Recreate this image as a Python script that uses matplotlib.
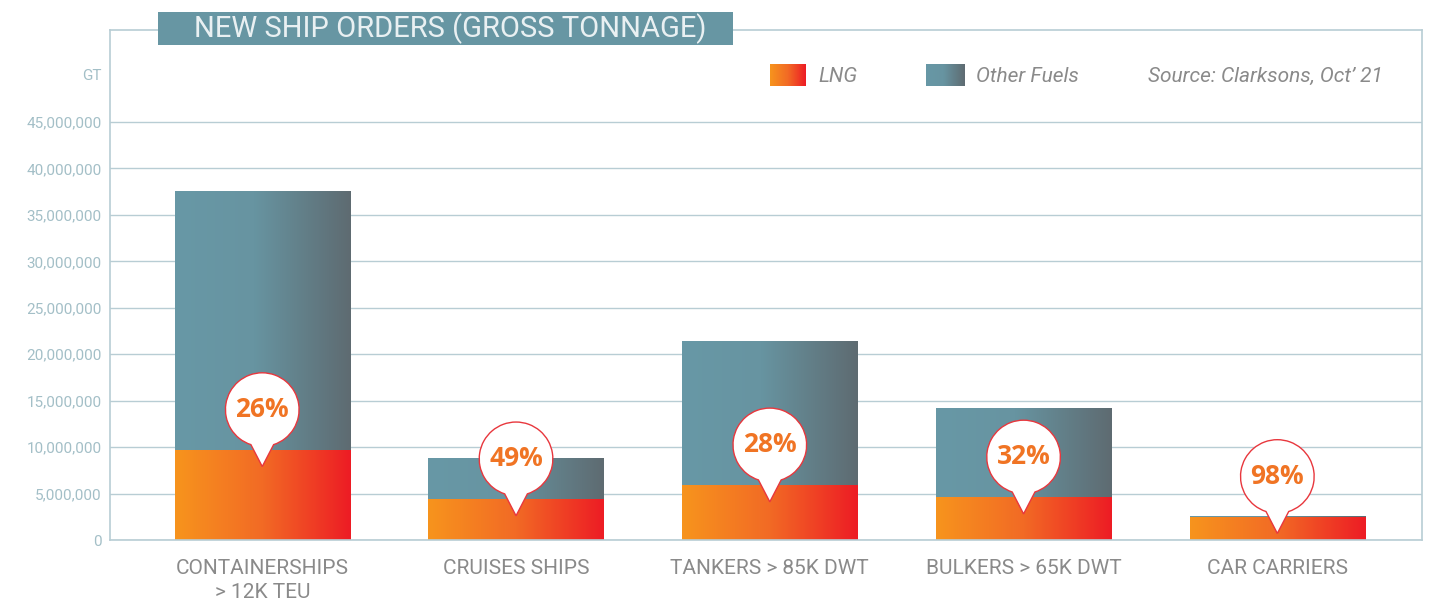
import numpy as np
import matplotlib
matplotlib.use("Agg")
import matplotlib.pyplot as plt
from matplotlib.colors import LinearSegmentedColormap
from matplotlib.patches import Rectangle, PathPatch
from matplotlib.path import Path
from matplotlib.ticker import FuncFormatter
import matplotlib.transforms as mtransforms

plt.rcParams["font.family"] = ["Roboto", "DejaVu Sans"]

categories = ["CONTAINERSHIPS\n> 12K TEU", "CRUISES SHIPS", "TANKERS > 85K DWT",
              "BULKERS > 65K DWT", "CAR CARRIERS"]
total_gt = [37.6e6, 8.8e6, 21.4e6, 14.2e6, 2.6e6]
lng_gt = [9.7e6, 4.4e6, 5.9e6, 4.6e6, 2.5e6]
lng_share = [26, 49, 28, 32, 98]

GRID = "#b8cdd4"
TICK = "#a3bfc7"
LABEL = "#8a8a8a"
LNG_CMAP = LinearSegmentedColormap.from_list("lng", ["#f7941d", "#f26a25", "#ed1c24"])
OTH_CMAP = LinearSegmentedColormap.from_list(
    "oth", [(0, "#6898a6"), (0.45, "#6794a1"), (1, "#5e6b71")])
GRAD = np.linspace(0, 1, 256).reshape(1, -1)

fig = plt.figure(figsize=(14.37, 6.03), dpi=100)
ax = fig.add_axes([110 / 1437, 63 / 603, 1312 / 1437, 510 / 603])
ax.set_xlim(-0.60, 4.57)
ax.set_ylim(0, 54.9e6)

width = 0.69
x = np.arange(len(categories))


def grad_bar(xc, y0, y1, cmap):
    rect = ax.bar(xc, y1 - y0, bottom=y0, width=width, color="none", lw=0)[0]
    im = ax.imshow(GRAD, cmap=cmap, aspect="auto", interpolation="bilinear",
                   extent=(xc - width / 2, xc + width / 2, y0, y1), zorder=2)
    im.set_clip_path(rect)


for i in x:
    grad_bar(i, lng_gt[i], total_gt[i], OTH_CMAP)
    grad_bar(i, 0, lng_gt[i], LNG_CMAP)

ax.set_xlim(-0.60, 4.57)
ax.set_ylim(0, 54.9e6)

# callout bubbles
r = 26.5
arc = Path.arc(-72, 252)
verts = list(arc.vertices * r + np.array([0, 29]))
codes = list(arc.codes)
verts += [(0, -12), (0, 0)]
codes += [Path.LINETO, Path.CLOSEPOLY]
bubble = Path(verts, codes)
for i in x:
    tr = mtransforms.Affine2D().scale(fig.dpi / 72) + \
        mtransforms.ScaledTranslation(i, lng_gt[i], ax.transData)
    ax.add_patch(PathPatch(bubble, transform=tr, facecolor="white",
                           edgecolor="#e8373d", lw=1.0, zorder=5))
    ax.annotate(f"{lng_share[i]}%", xy=(i, lng_gt[i]), xytext=(0, 29),
                textcoords="offset points", ha="center", va="center",
                fontsize=19, fontweight="bold", color="#f07424",
                family=["Open Sans", "DejaVu Sans"], zorder=6)

ax.set_yticks(np.arange(0, 45e6 + 1, 5e6))
ax.yaxis.set_major_formatter(FuncFormatter(lambda v, p: f"{int(v):,}"))
ax.set_xticks(x)
ax.set_xticklabels(categories, linespacing=1.3, va="top")
ax.tick_params(axis="y", length=0, pad=6, labelsize=11, labelcolor=TICK)
ax.tick_params(axis="x", length=0, pad=14, labelsize=15, labelcolor=LABEL)
ax.grid(axis="y", color=GRID, lw=1.0)
ax.set_axisbelow(True)
for s in ax.spines.values():
    s.set_color(GRID)
    s.set_linewidth(1.2)

ax.annotate("GT", xy=(0, 50e6), xycoords=("axes fraction", "data"),
            xytext=(-6, 0), textcoords="offset points", ha="right", va="center",
            fontsize=11, color=TICK)

# title box
W, H = 1437, 603
fig.patches.append(Rectangle((158 / W, 1 - 45 / H), 575 / W, 33 / H,
                             transform=fig.transFigure, facecolor="#6796a3",
                             edgecolor="none", zorder=10))
fig.text(450 / W, 1 - 29 / H, "NEW SHIP ORDERS (GROSS TONNAGE)", ha="center",
         va="center", fontsize=21, color="#e9f0f2", zorder=11)

# legend
for (x0, x1), cmap in [((770, 806), LNG_CMAP), ((926, 965), OTH_CMAP)]:
    la = fig.add_axes([x0 / W, 1 - 86 / H, (x1 - x0) / W, 22 / H])
    la.imshow(GRAD, cmap=cmap, aspect="auto")
    la.axis("off")
for xt, txt in [(818, "LNG"), (976, "Other Fuels"), (1148, "Source: Clarksons, Oct\u2019 21")]:
    fig.text(xt / W, 1 - 76 / H, txt, ha="left", va="center", fontsize=15,
             style="italic", color=LABEL)

fig.savefig("out.png", dpi=100, facecolor="white")
